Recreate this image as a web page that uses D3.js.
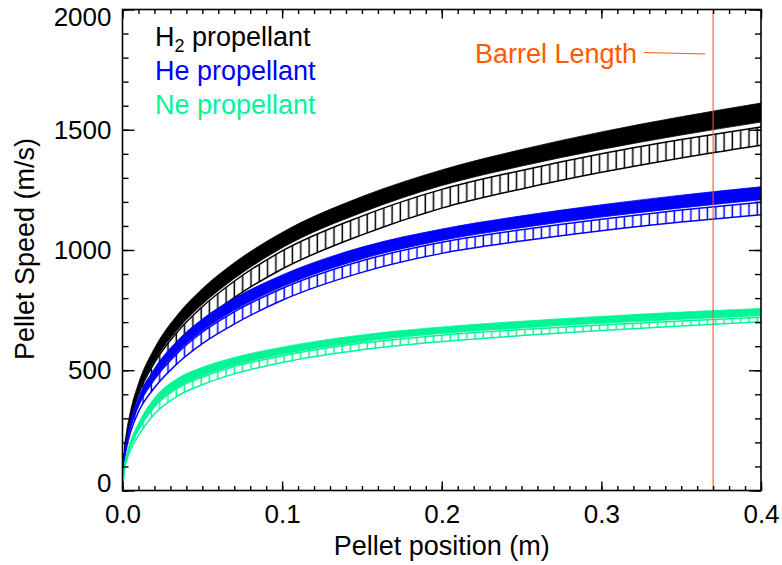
<!DOCTYPE html>
<html>
<head>
<meta charset="utf-8">
<script src="https://cdn.jsdelivr.net/npm/d3@7"></script>
<style>
  body { margin: 0; background: #fff; }
  svg { display: block; }
  text { font-family: "Liberation Sans", Arial, Helvetica, sans-serif; }
</style>
</head>
<body>
<script>
// pellet position (m) at which the curves were read
var xVals = [0, 0.001, 0.0025, 0.005, 0.01, 0.02, 0.035, 0.05, 0.07, 0.1, 0.15, 0.2, 0.25, 0.3, 0.35, 0.4];

// H2 propellant: solid band and hatched band (m/s)
var h2SolidTop = [0, 157, 242, 330, 445, 591, 735, 839, 947, 1073, 1222, 1333, 1418, 1491, 1554, 1611];
var h2SolidBot = [0, 143, 220, 300, 405, 538, 673, 774, 881, 1009, 1156, 1268, 1349, 1418, 1478, 1532];
var h2HatchTop = [0, 141, 217, 296, 400, 531, 664, 764, 870, 996, 1141, 1252, 1331, 1400, 1459, 1512];
var h2HatchBot = [0, 130, 200, 272, 368, 489, 611, 703, 802, 921, 1063, 1174, 1254, 1323, 1383, 1436];

// He propellant
var heSolidTop = [0, 137, 210, 287, 387, 507, 627, 713, 799, 896, 1012, 1087, 1142, 1188, 1228, 1263];
var heSolidBot = [0, 126, 193, 264, 356, 466, 580, 663, 749, 847, 963, 1040, 1093, 1137, 1175, 1209];
var heHatchTop = [0, 125, 191, 262, 353, 462, 575, 658, 743, 840, 955, 1032, 1084, 1128, 1166, 1199];
var heHatchBot = [0, 116, 177, 242, 327, 427, 532, 611, 692, 791, 907, 986, 1037, 1080, 1116, 1147];

// Ne propellant
var neSolidTop = [0, 95, 148, 205, 280, 385, 468, 512, 553, 596, 647, 680, 704, 724, 742, 757];
var neSolidBot = [0, 86, 135, 187, 255, 352, 431, 476, 520, 566, 619, 653, 676, 695, 712, 727];
var neHatchTop = [0, 85, 134, 185, 252, 348, 427, 471, 515, 560, 613, 646, 669, 688, 705, 720];
var neHatchBot = [0, 77, 122, 168, 229, 318, 395, 440, 485, 532, 585, 619, 644, 665, 684, 702];

var xTicks = [0, 0.1, 0.2, 0.3, 0.4];
var yTicks = [0, 500, 1000, 1500, 2000];
var barrelLength = 0.37;

var legendNames = ["He propellant", "Ne propellant"];
var colors = { h2: "#000000", he: "#0000ff", ne: "#00f596", barrel: "#ff5a00" };

var width = 782, height = 565;
var margin = { left: 122.5, right: 21, top: 9.5, bottom: 74.5 };

var svg = d3.select("body").append("svg")
    .attr("width", width)
    .attr("height", height);

var xScale = d3.scaleLinear().domain([0, 0.4]).range([margin.left, width - margin.right]);
var yScale = d3.scaleLinear().domain([0, 2000]).range([height - margin.bottom, margin.top]);

var defs = svg.append("defs");
defs.append("clipPath").attr("id", "plotclip")
  .append("rect")
    .attr("x", xScale(0)).attr("y", yScale(2000))
    .attr("width", xScale(0.4) - xScale(0))
    .attr("height", yScale(0) - yScale(2000));

// vertical line fill, like IDL polyfill with orientation 90
function hatchPattern(id, color) {
  var p = defs.append("pattern")
      .attr("id", id)
      .attr("patternUnits", "userSpaceOnUse")
      .attr("x", xScale(0))
      .attr("y", 0)
      .attr("width", 8.3)
      .attr("height", 10);
  p.append("line")
      .attr("x1", 4).attr("x2", 4)
      .attr("y1", 0).attr("y2", 10)
      .attr("stroke", color)
      .attr("stroke-width", 1.5);
}
hatchPattern("hatch-h2", colors.h2);
hatchPattern("hatch-he", colors.he);
hatchPattern("hatch-ne", colors.ne);

var plot = svg.append("g").attr("clip-path", "url(#plotclip)");

function band(top, bot) {
  return xVals.map(function(x, i) { return { x: x, top: top[i], bot: bot[i] }; });
}

var area = d3.area()
    .x(function(d) { return xScale(d.x); })
    .y0(function(d) { return yScale(d.bot); })
    .y1(function(d) { return yScale(d.top); })
    .curve(d3.curveMonotoneX);

var lineTop = d3.line()
    .x(function(d) { return xScale(d.x); })
    .y(function(d) { return yScale(d.top); })
    .curve(d3.curveMonotoneX);

var lineBot = d3.line()
    .x(function(d) { return xScale(d.x); })
    .y(function(d) { return yScale(d.bot); })
    .curve(d3.curveMonotoneX);

function drawGas(key, sTop, sBot, hTop, hBot) {
  var solid = band(sTop, sBot);
  var hatch = band(hTop, hBot);
  var g = plot.append("g").attr("class", "gas " + key);

  g.append("path")
    .attr("d", area(solid))
    .attr("fill", colors[key])
    .attr("stroke", colors[key])
    .attr("stroke-width", 0.8);

  g.append("path")
    .attr("d", area(hatch))
    .attr("fill", "url(#hatch-" + key + ")")
    .attr("stroke", "none");

  g.append("path")
    .attr("d", lineTop(hatch))
    .attr("fill", "none")
    .attr("stroke", colors[key])
    .attr("stroke-width", 1.5);

  g.append("path")
    .attr("d", lineBot(hatch))
    .attr("fill", "none")
    .attr("stroke", colors[key])
    .attr("stroke-width", 1.5);
}

drawGas("h2", h2SolidTop, h2SolidBot, h2HatchTop, h2HatchBot);
drawGas("he", heSolidTop, heSolidBot, heHatchTop, heHatchBot);
drawGas("ne", neSolidTop, neSolidBot, neHatchTop, neHatchBot);

// barrel length marker
plot.append("line")
    .attr("x1", xScale(barrelLength)).attr("x2", xScale(barrelLength))
    .attr("y1", yScale(2000)).attr("y2", yScale(0))
    .attr("stroke", colors.barrel)
    .attr("stroke-width", 1.1);

svg.append("line")
    .attr("x1", 644).attr("y1", 52.5)
    .attr("x2", 705).attr("y2", 54)
    .attr("stroke", colors.barrel)
    .attr("stroke-width", 1.1);

svg.append("text")
    .attr("x", 475).attr("y", 63)
    .attr("font-size", "27px")
    .attr("fill", colors.barrel)
    .text("Barrel Length");

// axes, ticks pointing inward on all four sides
var xMinor = d3.range(0, 0.4001, 0.01);
var yMinor = d3.range(0, 2001, 100);

function styleAxis(g) {
  g.select(".domain").remove();
  g.selectAll("line").attr("stroke", "#000").attr("stroke-width", 1.4);
  g.selectAll("text")
    .attr("font-size", "26px")
    .attr("font-family", "'Liberation Sans', Arial, sans-serif")
    .attr("fill", "#000");
}

// bottom
svg.append("g")
    .attr("transform", "translate(0," + yScale(0) + ")")
    .call(d3.axisBottom(xScale).tickValues(xMinor).tickSize(-4.5).tickFormat(""))
    .call(styleAxis);
svg.append("g")
    .attr("class", "axis axis--x")
    .attr("transform", "translate(0," + yScale(0) + ")")
    .call(d3.axisBottom(xScale).tickValues(xTicks).tickSize(-9).tickPadding(14).tickFormat(d3.format(".1f")))
    .call(styleAxis);

// top
svg.append("g")
    .attr("transform", "translate(0," + yScale(2000) + ")")
    .call(d3.axisTop(xScale).tickValues(xMinor).tickSize(-4.5).tickFormat(""))
    .call(styleAxis);
svg.append("g")
    .attr("transform", "translate(0," + yScale(2000) + ")")
    .call(d3.axisTop(xScale).tickValues(xTicks).tickSize(-9).tickFormat(""))
    .call(styleAxis);

// left
svg.append("g")
    .attr("transform", "translate(" + xScale(0) + ",0)")
    .call(d3.axisLeft(yScale).tickValues(yMinor).tickSize(-6).tickFormat(""))
    .call(styleAxis);
var yAxis = svg.append("g")
    .attr("class", "axis axis--y")
    .attr("transform", "translate(" + xScale(0) + ",0)")
    .call(d3.axisLeft(yScale).tickValues(yTicks).tickSize(-12).tickPadding(11).tickFormat(d3.format("d")))
    .call(styleAxis);
// end labels sit inside the frame
yAxis.selectAll(".tick text")
    .attr("dy", function(d) { return d === 0 ? "0.03em" : (d === 2000 ? "0.62em" : "0.32em"); });

// right
svg.append("g")
    .attr("transform", "translate(" + xScale(0.4) + ",0)")
    .call(d3.axisRight(yScale).tickValues(yMinor).tickSize(-6).tickFormat(""))
    .call(styleAxis);
svg.append("g")
    .attr("transform", "translate(" + xScale(0.4) + ",0)")
    .call(d3.axisRight(yScale).tickValues(yTicks).tickSize(-12).tickFormat(""))
    .call(styleAxis);

// frame
svg.append("rect")
    .attr("x", xScale(0)).attr("y", yScale(2000))
    .attr("width", xScale(0.4) - xScale(0))
    .attr("height", yScale(0) - yScale(2000))
    .attr("fill", "none")
    .attr("stroke", "#000")
    .attr("stroke-width", 1.6);

// axis titles
svg.append("text")
    .attr("x", (xScale(0) + xScale(0.4)) / 2)
    .attr("y", 555)
    .attr("text-anchor", "middle")
    .attr("font-size", "27px")
    .text("Pellet position (m)");

svg.append("text")
    .attr("transform", "translate(34," + (yScale(1000) - 1) + ") rotate(-90)")
    .attr("text-anchor", "middle")
    .attr("font-size", "27px")
    .text("Pellet Speed (m/s)");

// legend
var legend = svg.append("g").attr("font-size", "27px");
var h2Label = legend.append("text").attr("x", 155).attr("y", 46).attr("fill", colors.h2);
h2Label.append("tspan").text("H");
h2Label.append("tspan").attr("font-size", "18px").attr("dy", 6).text("2");
h2Label.append("tspan").attr("dy", -6).text(" propellant");

legend.selectAll("text.entry")
    .data(legendNames)
  .enter().append("text")
    .attr("class", "entry")
    .attr("x", 155)
    .attr("y", function(d, i) { return 80 + i * 34; })
    .attr("fill", function(d, i) { return i === 0 ? colors.he : colors.ne; })
    .text(function(d) { return d; });
</script>
</body>
</html>
